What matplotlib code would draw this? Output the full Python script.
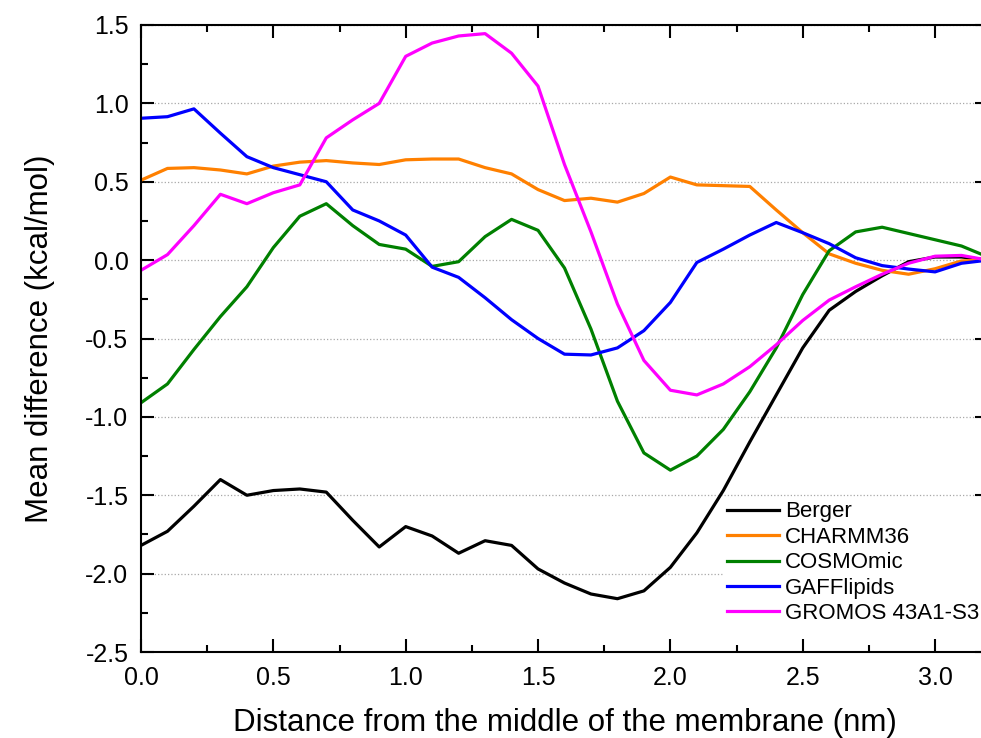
import numpy as np
import matplotlib.pyplot as plt
from matplotlib.ticker import MultipleLocator

plt.rcParams['font.family'] = ['Liberation Sans', 'DejaVu Sans']

# distance from membrane centre (nm)
distance = [0.0, 0.1, 0.2, 0.3, 0.4, 0.5, 0.6, 0.7, 0.8, 0.9, 1.0,
            1.1, 1.2, 1.3, 1.4, 1.5, 1.6, 1.7, 1.8, 1.9, 2.0,
            2.1, 2.2, 2.3, 2.4, 2.5, 2.6, 2.7, 2.8, 2.9, 3.0, 3.1, 3.2]

berger = [-1.82, -1.73, -1.57, -1.40, -1.50, -1.47, -1.46, -1.48, -1.66, -1.83, -1.70,
          -1.76, -1.87, -1.79, -1.82, -1.97, -2.06, -2.13, -2.16, -2.11, -1.96,
          -1.74, -1.47, -1.16, -0.86, -0.56, -0.32, -0.20, -0.10, -0.01, 0.02, 0.02, 0.0]
charmm36 = [0.51, 0.585, 0.59, 0.575, 0.55, 0.60, 0.625, 0.635, 0.62, 0.61, 0.64,
            0.645, 0.645, 0.59, 0.55, 0.45, 0.38, 0.395, 0.37, 0.425, 0.53,
            0.48, 0.475, 0.47, 0.32, 0.175, 0.04, -0.02, -0.065, -0.09, -0.055, -0.005, 0.0]
cosmomic = [-0.91, -0.79, -0.57, -0.36, -0.17, 0.08, 0.28, 0.36, 0.22, 0.10, 0.07,
            -0.04, -0.01, 0.15, 0.26, 0.19, -0.05, -0.44, -0.90, -1.23, -1.34,
            -1.25, -1.08, -0.84, -0.56, -0.22, 0.06, 0.18, 0.21, 0.17, 0.13, 0.09, 0.02]
gafflipids = [0.905, 0.915, 0.965, 0.81, 0.66, 0.59, 0.545, 0.50, 0.32, 0.25, 0.16,
              -0.045, -0.11, -0.24, -0.38, -0.50, -0.60, -0.605, -0.56, -0.45, -0.27,
              -0.015, 0.07, 0.16, 0.24, 0.175, 0.105, 0.015, -0.035, -0.057, -0.075, -0.02, 0.0]
gromos = [-0.065, 0.035, 0.22, 0.42, 0.36, 0.43, 0.48, 0.78, 0.895, 1.0, 1.30,
          1.385, 1.43, 1.445, 1.32, 1.11, 0.61, 0.18, -0.28, -0.64, -0.83,
          -0.86, -0.79, -0.68, -0.54, -0.385, -0.255, -0.17, -0.09, -0.02, 0.025, 0.03, 0.0]

series = [("Berger", berger, "black"),
          ("CHARMM36", charmm36, "#ff8000"),
          ("COSMOmic", cosmomic, "#008000"),
          ("GAFFlipids", gafflipids, "#0000ff"),
          ("GROMOS 43A1-S3", gromos, "#ff00ff")]

fig = plt.figure(figsize=(9.81, 7.38), dpi=100)
ax = fig.add_axes([141 / 981, 1 - 652 / 738, 847 / 981, 627 / 738])

for name, vals, col in series:
    ax.plot(distance, vals, color=col, lw=2.3, label=name)

ax.set_xlim(0, 3.2)
ax.set_ylim(-2.5, 1.5)
ax.xaxis.set_major_locator(MultipleLocator(0.5))
ax.xaxis.set_minor_locator(MultipleLocator(0.25))
ax.yaxis.set_major_locator(MultipleLocator(0.5))
ax.yaxis.set_minor_locator(MultipleLocator(0.25))
ax.xaxis.set_major_formatter(plt.FormatStrFormatter('%.1f'))
ax.yaxis.set_major_formatter(plt.FormatStrFormatter('%.1f'))

ax.tick_params(which='both', direction='in', top=True, right=True, width=1.5,
               labelsize=18)
ax.tick_params(which='major', length=9.5)
ax.tick_params(which='minor', length=5)
ax.tick_params(axis='x', pad=10)
ax.tick_params(axis='y', pad=9)
for s in ax.spines.values():
    s.set_linewidth(1.5)

ax.yaxis.grid(True, linestyle=':', color='#a8a8a8', lw=0.9)
ax.set_axisbelow(True)

ax.set_xlabel("Distance from the middle of the membrane (nm)", fontsize=22.5, labelpad=13)
ax.set_ylabel("Mean difference (kcal/mol)", fontsize=22.5, labelpad=22)

leg = ax.legend(loc='upper left', bbox_to_anchor=(723 / 981, 1 - 497 / 738),
                bbox_transform=fig.transFigure, fontsize=16, frameon=True,
                fancybox=False, edgecolor='none', facecolor='white', framealpha=1,
                handlelength=2.3, handletextpad=0.3, labelspacing=0.2,
                borderpad=0.2, borderaxespad=0)
for h in leg.get_lines():
    h.set_linewidth(2.3)

fig.savefig("out.png", dpi=100)
